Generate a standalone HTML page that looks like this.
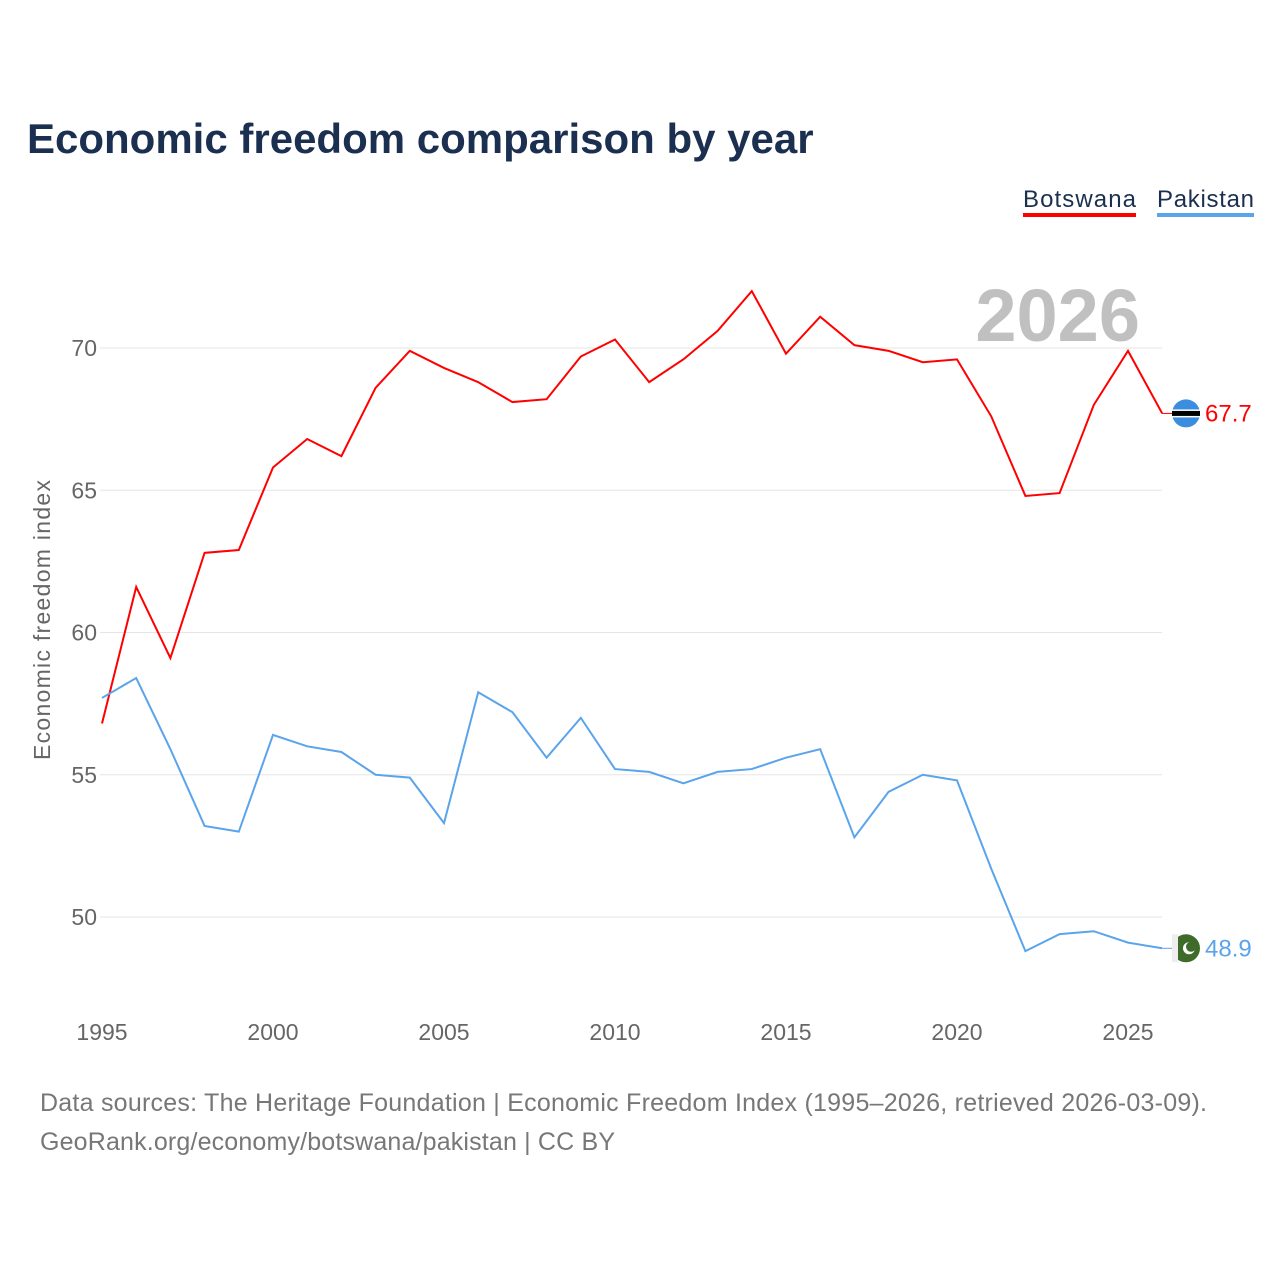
<!DOCTYPE html>
<html><head><meta charset="utf-8"><style>
body{margin:0;background:#fff;font-family:"Liberation Sans",sans-serif;}
#wrap{position:relative;width:1280px;height:1280px;overflow:hidden}
</style></head><body>
<div id="wrap">
<svg id="chart" width="1280" height="1280" xmlns="http://www.w3.org/2000/svg">
<text x="27" y="153" font-size="42" font-weight="bold" fill="#1b2f50">Economic freedom comparison by year</text>
<g><text x="1023" y="207" font-size="24" fill="#1b2f50" textLength="113">Botswana</text><rect x="1023" y="213" width="113" height="4" fill="#ff0000"/></g>
<g><text x="1157" y="207" font-size="24" fill="#1b2f50" textLength="97">Pakistan</text><rect x="1157" y="213" width="97" height="4" fill="#5aa4ec"/></g>
<text x="1140" y="341" font-size="74" font-weight="bold" fill="#c0c0c0" text-anchor="end">2026</text>
<text transform="translate(50,620) rotate(-90)" font-size="23" fill="#666" text-anchor="middle" textLength="280">Economic freedom index</text>
<g id="grid"></g><g id="xt"></g><g id="lines"></g>
<text x="40" y="1111" font-size="25" fill="#777" textLength="1167">Data sources: The Heritage Foundation | Economic Freedom Index (1995–2026, retrieved 2026-03-09).</text>
<text x="40" y="1150" font-size="25" fill="#777" textLength="575">GeoRank.org/economy/botswana/pakistan | CC BY</text>
</svg></div>
<script>
const years=[];for(let y=1995;y<=2026;y++)years.push(y);
const botswana=[56.8,61.6,59.1,62.8,62.9,65.8,66.8,66.2,68.6,69.9,69.3,68.8,68.1,68.2,69.7,70.3,68.8,69.6,70.6,72.0,69.8,71.1,70.1,69.9,69.5,69.6,67.6,64.8,64.9,68.0,69.9,67.7];
const pakistan=[57.7,58.4,55.9,53.2,53.0,56.4,56.0,55.8,55.0,54.9,53.3,57.9,57.2,55.6,57.0,55.2,55.1,54.7,55.1,55.2,55.6,55.9,52.8,54.4,55.0,54.8,51.7,48.8,49.4,49.5,49.1,48.9];
const yTicks=[50,55,60,65,70];
const xTicks=[1995,2000,2005,2010,2015,2020,2025];
const NS="http://www.w3.org/2000/svg";
const X=y=>102+(y-1995)*(1128-102)/30;
const Y=v=>917-(v-50)*(917-348)/20;
function mk(t,a,p){const e=document.createElementNS(NS,t);for(const k in a)e.setAttribute(k,a[k]);p.appendChild(e);return e;}
const g=document.getElementById('grid');
yTicks.forEach(v=>{
 const l=mk('line',{x1:100,x2:1162,y1:Y(v),y2:Y(v),stroke:'#e6e6e6','stroke-width':1},g);
 
 
 const t=mk('text',{x:97,y:Y(v)+8,'font-size':23,fill:'#666','text-anchor':'end'},g);t.textContent=v;
 
 
});
const xt=document.getElementById('xt');
xTicks.forEach(v=>{
 const t=mk('text',{x:X(v),y:1040,'font-size':23,fill:'#666','text-anchor':'middle'},xt);t.textContent=v;
 
 
});
const L=document.getElementById('lines');
function series(vals,col,name,lab){
 const p=mk('polyline',{points:vals.map((v,i)=>X(years[i])+','+Y(v)).join(' '),fill:'none',stroke:col,'stroke-width':2},L);
 
 
 const last=vals[vals.length-1],ly=Y(last);
 mk('line',{x1:X(2026),x2:1176,y1:ly,y2:ly,stroke:col,'stroke-width':1},L);
 const t=mk('text',{x:1205,y:ly+8,'font-size':24,fill:col},L);t.textContent=lab(last);
 
 
 return ly;
}
const by=series(botswana,'#ff0000','botswana',v=>v.toFixed(1));
const py=series(pakistan,'#5aa4ec','pakistan',v=>v.toFixed(1));
const f1=mk('g',{},L);


mk('circle',{cx:1186,cy:by,r:14,fill:'#3b8de0'},f1);
mk('rect',{x:1172,y:by-4,width:28,height:8,fill:'#fff'},f1);
mk('rect',{x:1172,y:by-2.5,width:28,height:5,fill:'#000'},f1);
const f2=mk('g',{},L);


mk('circle',{cx:1186,cy:py,r:14,fill:'#3f6b2a'},f2);
mk('rect',{x:1172,y:py-14,width:6,height:28,fill:'#eee'},f2);
mk('circle',{cx:1189,cy:py,r:6,fill:'#fff'},f2);
mk('circle',{cx:1191,cy:py-1.5,r:5,fill:'#3f6b2a'},f2);
</script>
</body></html>
